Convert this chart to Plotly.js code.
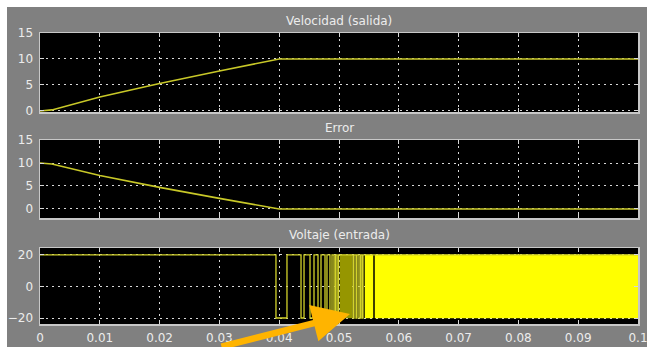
<!DOCTYPE html>
<html>
<head>
<meta charset="utf-8">
<script src="https://cdn.plot.ly/plotly-3.0.1.min.js"></script>
<style>html,body{margin:0;padding:0;background:#fff;}#chart{width:647px;height:347px;}</style>
</head>
<body>
<div id="chart"></div>
<script>
// ---- data ----
const tVel = [0, 0.002, 0.01, 0.02, 0.03, 0.04, 0.1];
const velocidad = [0, 0.2, 2.7, 5.3, 7.7, 10, 10];

const tErr = [0, 0.002, 0.01, 0.02, 0.03, 0.04, 0.1];
const errorVals = [10, 9.8, 7.3, 4.7, 2.3, 0, 0];

// voltage switching instants and levels (step-wise)
const tVolt = [0, 0.03946, 0.04130, 0.04365, 0.04415, 0.04515, 0.04582, 0.04649, 0.04699,
               0.04766, 0.04799, 0.04849, 0.04883, 0.04916, 0.04941, 0.04967, 0.04992,
               0.05234, 0.05251, 0.05284, 0.05301, 0.05334, 0.05360, 0.05385, 0.05401, 0.1];
const voltaje = [20, -20, 20, -20, 20, -20, 20, -20, 20,
                 -20, 20, -20, 20, -20, 20, -20, 20,
                 -20, 20, -20, 20, -20, 20, -20, 20, 20];
// chattering bands (very fast switching between +20 and -20)
const bandStart = [0.05017, 0.05435, 0.05602];
const bandEnd   = [0.05217, 0.05569, 0.1];
const bandDensity = [0.5, 1, 1];
const voltHigh = 20, voltLow = -20;

const xTicks = [0, 0.01, 0.02, 0.03, 0.04, 0.05, 0.06, 0.07, 0.08, 0.09, 0.1];
const xTickText = ['0', '0.01', '0.02', '0.03', '0.04', '0.05', '0.06', '0.07', '0.08', '0.09', '0.1'];
const yTicks1 = [0, 5, 10, 15];
const yTicks2 = [0, 5, 10, 15];
const yTicks3 = [-20, 0, 20];

const titles = ['Velocidad (salida)', 'Error', 'Voltaje (entrada)'];

// ---- figure ----
const W = 647, H = 347;
const px = v => v / W, py = v => 1 - v / H;
const lineCol = '#c8c828';

const traces = [
  {x: tVel, y: velocidad, xaxis: 'x', yaxis: 'y', mode: 'lines', line: {color: lineCol, width: 1.6}, hoverinfo: 'skip'},
  {x: tErr, y: errorVals, xaxis: 'x2', yaxis: 'y2', mode: 'lines', line: {color: lineCol, width: 1.6}, hoverinfo: 'skip'}
];
bandStart.forEach((s, i) => {
  const e = bandEnd[i];
  const d = bandDensity[i];
  traces.push({
    x: [s, e, e, s, s], y: [voltLow, voltLow, voltHigh, voltHigh, voltLow],
    xaxis: 'x3', yaxis: 'y3', mode: 'lines', fill: 'toself',
    fillcolor: d < 1 ? 'rgba(150,150,0,1)' : '#ffff00',
    line: {color: d < 1 ? 'rgba(150,150,0,1)' : '#ffff00', width: 0.5}, hoverinfo: 'skip'
  });
});
traces.push({x: tVolt, y: voltaje, xaxis: 'x3', yaxis: 'y3', mode: 'lines',
  line: {color: '#d2d22a', width: 1.3, shape: 'hv'}, hoverinfo: 'skip'});

const font = {family: 'DejaVu Sans, Liberation Sans, sans-serif', size: 12, color: '#ececec'};
const xDom = [px(40), px(638)];

function xAx(labels, anchor) {
  return {domain: xDom, anchor: anchor, range: [0, 0.1], tickvals: xTicks, ticktext: xTickText,
    showticklabels: labels, ticks: 'inside', ticklen: 4, tickcolor: '#d8d8d8',
    showline: true, linecolor: '#c8c8c8', linewidth: 1.5, mirror: 'ticks',
    showgrid: true, gridcolor: '#d8d8d8', griddash: '2px,4px', gridwidth: 1,
    zeroline: false, tickfont: font, ticklabelstandoff: 2, ticklabeloverflow: 'allow', fixedrange: true};
}
function yAx(dom, range, ticks, anchor) {
  return {domain: dom, anchor: anchor, range: range, tickvals: ticks,
    ticks: 'inside', ticklen: 4, tickcolor: '#d8d8d8',
    showline: true, linecolor: '#c8c8c8', linewidth: 1.5, mirror: 'ticks',
    showgrid: true, gridcolor: '#d8d8d8', griddash: '2px,4px', gridwidth: 1,
    zeroline: false, tickfont: font, ticklabelstandoff: 3, ticklabeloverflow: 'allow', fixedrange: true};
}

const layout = {
  width: W, height: H, margin: {l: 0, r: 0, t: 0, b: 0},
  paper_bgcolor: '#808080', plot_bgcolor: '#000000', showlegend: false,
  xaxis: xAx(false, 'y'),
  xaxis2: xAx(false, 'y2'),
  xaxis3: xAx(true, 'y3'),
  yaxis: yAx([py(112), py(33)], [-0.2, 15], yTicks1, 'x'),
  yaxis2: yAx([py(218), py(140)], [-1.96, 15], yTicks2, 'x2'),
  yaxis3: yAx([py(324), py(248)], [-23.8, 24.4], yTicks3, 'x3'),
  shapes: [
    {type: 'rect', xref: 'paper', yref: 'paper', x0: 0, x1: 1, y0: py(7), y1: 1, fillcolor: '#ffffff', line: {width: 0}, layer: 'above'},
    {type: 'rect', xref: 'paper', yref: 'paper', x0: 0, x1: px(7), y0: 0, y1: 1, fillcolor: '#ffffff', line: {width: 0}, layer: 'above'}
  ],
  annotations: [
    {text: titles[0], xref: 'paper', yref: 'paper', x: px(339), y: py(21), showarrow: false, font: font, xanchor: 'center', yanchor: 'middle'},
    {text: titles[1], xref: 'paper', yref: 'paper', x: px(339), y: py(128), showarrow: false, font: font, xanchor: 'center', yanchor: 'middle'},
    {text: titles[2], xref: 'paper', yref: 'paper', x: px(339), y: py(235), showarrow: false, font: font, xanchor: 'center', yanchor: 'middle'},
    {text: '', xref: 'paper', yref: 'paper', x: px(350), y: py(314), showarrow: true,
     ax: -130, ay: 38, arrowcolor: '#ffb400', arrowwidth: 6.5, arrowhead: 2, arrowsize: 1.15, standoff: 0}
  ]
};

Plotly.newPlot('chart', traces, layout, {staticPlot: true, displayModeBar: false});
</script>
</body>
</html>
